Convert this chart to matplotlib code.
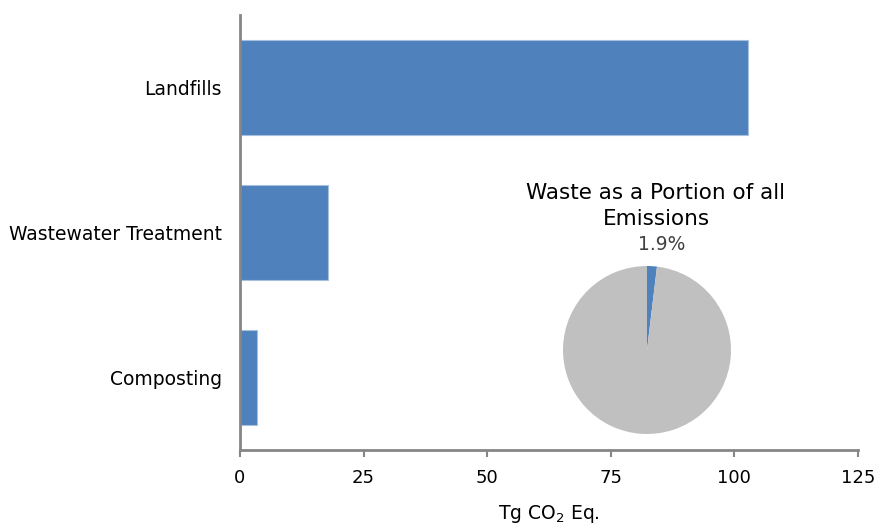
import numpy as np
from matplotlib import pyplot as plt

# bar data (Tg CO2 Eq.)
categories = ["Landfills", "Wastewater Treatment", "Composting"]
values = [102.8, 17.8, 3.4]
xticks = [0, 25, 50, 75, 100, 125]

# pie data (share of all emissions, %)
pie_shares = [1.9, 98.1]
pie_label = "1.9%"

blue = "#4F81BD"
grey = "#C0C0C0"
axis_grey = "#868686"

fig = plt.figure(figsize=(8.78, 5.25), dpi=100)
ax = fig.add_axes([240/878, 1 - 450/525, 618/878, 435/525])

y = np.arange(len(categories))
ax.barh(y, values, height=0.66, color=blue, edgecolor="#A7C0DE", linewidth=0.8)
ax.set_ylim(len(categories) - 0.5, -0.5)
ax.set_xlim(0, 125)
ax.set_xticks(xticks)
ax.set_xticklabels([str(t) for t in xticks], fontsize=13)
ax.set_yticks(y)
ax.set_yticklabels(categories, fontsize=13.5)
ax.tick_params(axis="y", length=0, pad=13)
ax.tick_params(axis="x", length=5, width=1.5, color=axis_grey, pad=9)
ax.set_xlabel("Tg CO$_2$ Eq.", fontsize=13.5, labelpad=11)

for s in ["top", "right"]:
    ax.spines[s].set_visible(False)
for s in ["left", "bottom"]:
    ax.spines[s].set_color(axis_grey)
    ax.spines[s].set_linewidth(2)

# inset pie
r = 84
cx, cy = 647, 350
pax = fig.add_axes([(cx - r)/878, 1 - (cy + r)/525, 2*r/878, 2*r/525])
pax.pie(pie_shares, colors=[blue, grey], startangle=90, counterclock=False,
        radius=1, wedgeprops=dict(linewidth=0))
pax.set_xlim(-1, 1)
pax.set_ylim(-1, 1)
pax.set_aspect("equal")

fig.text(656/878, 1 - 206/525, "Waste as a Portion of all\nEmissions", ha="center",
         va="center", fontsize=15.5, linespacing=1.4)
fig.text(662/878, 1 - 245/525, pie_label, ha="center", va="center", fontsize=13.5,
         color="#404040")

fig.savefig("out.png", dpi=100)
